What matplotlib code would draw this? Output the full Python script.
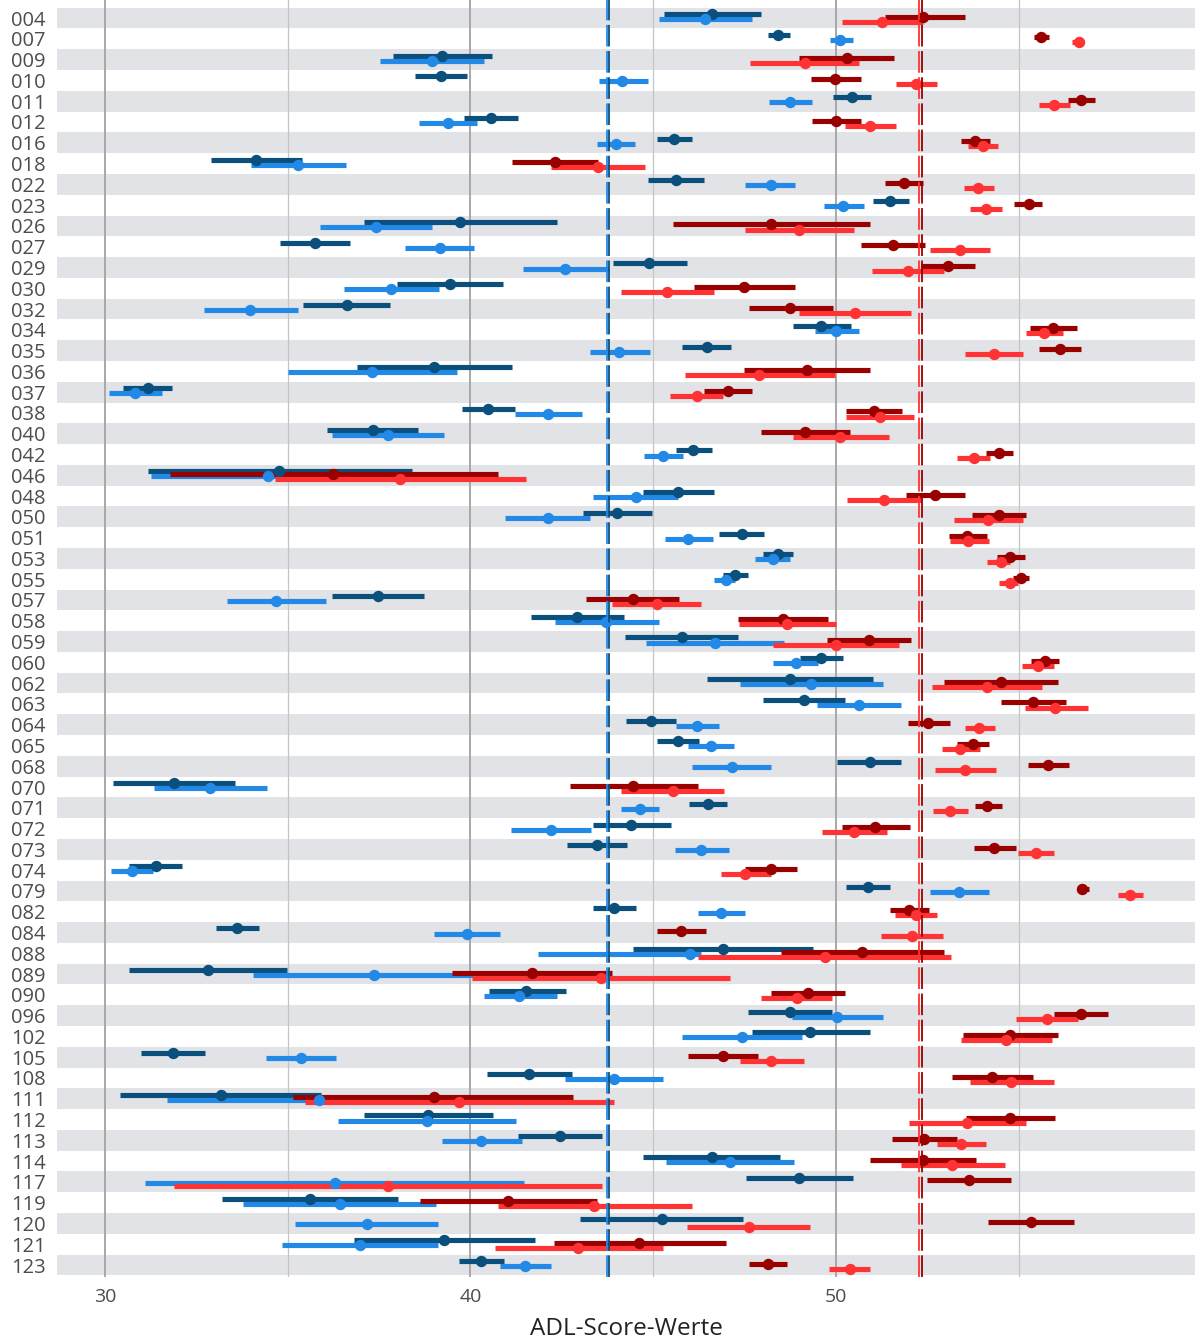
import numpy as np
import matplotlib.pyplot as plt

plt.rcParams['font.family'] = ['Open Sans', 'DejaVu Sans']

# subject ids, top to bottom
ids = ['004', '007', '009', '010', '011', '012', '016', '018', '022', '023',
       '026', '027', '029', '030', '032', '034', '035', '036', '037', '038',
       '040', '042', '046', '048', '050', '051', '053', '055', '057', '058',
       '059', '060', '062', '063', '064', '065', '068', '070', '071', '072',
       '073', '074', '079', '082', '084', '088', '089', '090', '096', '102',
       '105', '108', '111', '112', '113', '114', '117', '119', '120', '121',
       '123']

# dark blue series: estimate, lower, upper
db_pt = [46.61, 48.42, 39.22, 39.20, 50.44, 40.55, 45.57, 34.14, 45.61, 51.48,
         39.72, 35.74, 44.88, 39.43, 36.62, 49.60, 46.46, 39.01, 31.17, 40.49,
         37.33, 46.09, 34.77, 45.69, 44.01, 47.42, 48.42, 47.23, 37.47, 42.92,
         45.78, 49.60, 48.75, 49.13, 44.94, 45.67, 50.92, 31.89, 46.50, 44.40,
         43.47, 31.39, 50.87, 43.92, 33.62, 46.92, 32.81, 41.53, 48.73, 49.29,
         31.85, 41.61, 33.18, 38.85, 42.45, 46.61, 49.00, 35.60, 45.23, 39.28,
         40.28]
db_lo = [45.30, 48.13, 37.89, 38.49, 49.92, 39.82, 45.09, 32.91, 44.86, 51.00,
         37.08, 34.79, 43.90, 37.99, 35.43, 48.81, 45.80, 36.91, 30.50, 39.78,
         36.08, 45.63, 31.17, 44.73, 43.09, 46.80, 48.00, 46.92, 36.22, 41.65,
         44.24, 49.02, 46.48, 48.00, 44.26, 45.11, 50.04, 30.21, 45.98, 43.34,
         42.65, 30.67, 50.27, 43.34, 33.04, 44.46, 30.65, 40.51, 47.59, 47.69,
         30.98, 40.45, 30.42, 37.10, 41.30, 44.73, 47.54, 33.20, 43.01, 36.81,
         39.68]
db_hi = [47.96, 48.75, 40.59, 39.91, 50.96, 41.30, 46.05, 35.39, 46.40, 52.00,
         42.36, 36.70, 45.92, 40.88, 37.80, 50.42, 47.13, 41.13, 31.83, 41.22,
         38.57, 46.61, 38.39, 46.67, 44.96, 48.04, 48.83, 47.59, 38.72, 44.21,
         47.32, 50.19, 51.02, 50.25, 45.63, 46.25, 51.79, 33.56, 47.02, 45.48,
         44.28, 32.12, 51.48, 44.53, 34.22, 49.38, 34.99, 42.61, 49.90, 50.92,
         32.75, 42.78, 35.91, 40.63, 43.61, 48.48, 50.46, 38.03, 47.46, 41.76,
         40.91]

# light blue series
lb_pt = [46.42, 50.10, 38.95, 44.15, 48.73, 39.39, 43.99, 35.29, 48.21, 50.19,
         37.41, 39.16, 42.59, 37.83, 33.98, 50.00, 44.07, 37.30, 30.83, 42.11,
         37.74, 45.28, 34.45, 44.53, 42.11, 45.96, 48.27, 46.98, 34.68, 43.71,
         46.69, 48.90, 49.31, 50.62, 46.19, 46.57, 47.15, 32.87, 44.63, 42.20,
         46.32, 30.73, 53.37, 46.86, 39.91, 46.00, 37.37, 41.34, 50.04, 47.44,
         35.37, 43.92, 35.85, 38.80, 40.30, 47.11, 36.29, 36.43, 37.16, 36.97,
         41.49]
lb_lo = [45.17, 49.83, 37.53, 43.51, 48.17, 38.60, 43.47, 34.00, 47.52, 49.67,
         35.89, 38.20, 41.43, 36.53, 32.71, 49.42, 43.26, 35.02, 30.10, 41.22,
         36.22, 44.76, 31.25, 43.36, 40.95, 45.32, 47.79, 46.65, 33.35, 42.30,
         44.80, 48.27, 47.36, 49.48, 45.63, 45.96, 46.07, 31.33, 44.13, 41.11,
         45.59, 30.17, 52.56, 46.23, 39.01, 41.84, 34.04, 40.36, 48.79, 45.80,
         34.41, 42.59, 31.71, 36.39, 39.22, 45.36, 31.10, 33.77, 35.20, 34.85,
         40.80]
lb_hi = [47.71, 50.46, 40.38, 44.86, 49.33, 40.18, 44.51, 36.60, 48.88, 50.77,
         38.95, 40.09, 43.80, 39.14, 35.27, 50.62, 44.90, 39.62, 31.56, 43.05,
         39.28, 45.82, 34.70, 45.69, 43.28, 46.63, 48.75, 47.23, 36.04, 45.15,
         48.58, 49.52, 51.29, 51.77, 46.80, 47.21, 48.23, 34.43, 45.17, 43.30,
         47.07, 31.31, 54.18, 47.52, 40.82, 46.30, 40.10, 42.36, 51.29, 49.08,
         36.31, 45.28, 36.20, 41.24, 41.40, 48.86, 41.47, 39.05, 39.12, 39.12,
         42.20]

# dark red series
dr_pt = [52.39, 55.60, 50.29, 49.98, 56.70, 50.00, 53.81, 42.30, 51.85, 55.27,
         48.23, 51.56, 53.06, 47.48, 48.75, 55.93, 56.12, 49.21, 47.04, 51.04,
         49.15, 54.45, 36.24, 52.71, 54.45, 53.58, 54.77, 55.06, 44.44, 48.54,
         50.89, 55.72, 54.50, 55.39, 52.52, 53.75, 55.81, 44.44, 54.14, 51.08,
         54.33, 48.21, 56.74, 52.00, 45.75, 50.71, 41.68, 49.23, 56.70, 54.77,
         46.90, 54.27, 38.99, 54.77, 52.41, 52.37, 53.64, 41.03, 55.33, 44.61,
         48.13]
dr_lo = [51.33, 55.41, 49.00, 49.31, 56.35, 49.35, 53.41, 41.13, 51.35, 54.87,
         45.53, 50.69, 52.33, 46.11, 47.61, 55.31, 55.56, 47.48, 46.40, 50.27,
         47.96, 54.10, 31.77, 51.91, 53.73, 53.10, 54.41, 54.83, 43.17, 47.32,
         49.75, 55.33, 52.96, 54.52, 51.98, 53.31, 55.24, 42.72, 53.79, 50.17,
         53.77, 47.50, 56.58, 51.48, 45.09, 48.50, 39.49, 48.23, 55.95, 53.48,
         45.96, 53.16, 35.14, 53.56, 51.54, 50.92, 52.50, 38.62, 54.16, 42.28,
         47.63]
dr_hi = [53.54, 55.83, 51.58, 50.67, 57.08, 50.69, 54.20, 43.49, 52.39, 55.64,
         50.94, 52.43, 53.79, 48.88, 49.92, 56.60, 56.70, 50.94, 47.69, 51.81,
         50.37, 54.83, 40.74, 53.52, 55.20, 54.12, 55.16, 55.29, 45.71, 49.79,
         52.04, 56.10, 56.06, 56.29, 53.12, 54.18, 56.37, 46.23, 54.54, 52.02,
         54.91, 48.94, 56.91, 52.54, 46.44, 52.96, 43.86, 50.25, 57.45, 56.08,
         47.86, 55.39, 42.80, 55.99, 53.31, 53.83, 54.79, 43.47, 56.51, 46.98,
         48.65]

# light red series
lr_pt = [51.25, 56.64, 49.15, 52.19, 55.97, 50.94, 54.02, 43.49, 53.89, 54.10,
         48.98, 53.39, 51.96, 45.38, 50.52, 55.70, 54.31, 47.90, 46.19, 51.21,
         50.12, 53.77, 38.07, 51.31, 54.16, 53.62, 54.52, 54.75, 45.09, 48.67,
         50.00, 55.52, 54.12, 55.99, 53.91, 53.39, 53.54, 45.53, 53.12, 50.50,
         55.47, 47.52, 58.05, 52.19, 52.08, 49.69, 43.57, 48.92, 55.76, 54.66,
         48.23, 54.79, 39.70, 53.58, 53.43, 53.18, 37.74, 43.38, 47.61, 42.94,
         50.37]
lr_lo = [50.17, 56.45, 47.65, 51.64, 55.54, 50.25, 53.62, 42.20, 53.50, 53.66,
         47.50, 52.58, 50.98, 44.11, 48.98, 55.20, 53.54, 45.86, 45.46, 50.27,
         48.83, 53.31, 34.64, 50.29, 53.23, 53.12, 54.12, 54.47, 43.88, 47.34,
         48.27, 55.08, 52.62, 55.16, 53.54, 52.89, 52.71, 44.13, 52.66, 49.63,
         54.99, 46.86, 57.70, 51.60, 51.23, 46.23, 40.05, 47.96, 54.91, 53.41,
         47.36, 53.66, 35.47, 52.00, 52.77, 51.77, 31.89, 40.74, 45.92, 40.66,
         49.81]
lr_hi = [52.37, 56.78, 50.62, 52.77, 56.41, 51.64, 54.43, 44.78, 54.33, 54.54,
         50.48, 54.20, 52.96, 46.65, 52.06, 56.22, 55.12, 49.96, 46.92, 52.14,
         51.46, 54.22, 41.51, 52.33, 55.12, 54.18, 54.77, 54.99, 46.32, 50.00,
         51.73, 55.97, 55.64, 56.89, 54.35, 53.93, 54.37, 46.94, 53.60, 51.39,
         55.97, 48.23, 58.41, 52.77, 52.93, 53.14, 47.09, 49.90, 56.62, 55.91,
         49.13, 55.95, 43.94, 55.20, 54.10, 54.62, 43.59, 46.05, 49.29, 45.26,
         50.94]

# mean reference lines
ref_db, ref_lb, ref_dr, ref_lr = 43.79, 43.74, 52.34, 52.28

c_db, c_lb, c_dr, c_lr = '#0b4f7d', '#2389e6', '#990000', '#ff3333'

fig = plt.figure(figsize=(11.95, 13.43), dpi=100)
ax = fig.add_axes([0.0477, 0.0491, 0.9523, 0.9509])

n = len(ids)
y = np.arange(n)

# alternating row bands
for i in range(0, n, 2):
    ax.axhspan(i - 0.5, i + 0.5, color='#e1e3e6', lw=0, zorder=0)

for gx in [30, 40, 50]:
    ax.axvline(gx, color='#a8a8a8', lw=1.4, zorder=1)
for gx in [35, 45, 55]:
    ax.axvline(gx, color='#c4c4c4', lw=0.9, zorder=1)

series = [
    (db_pt, db_lo, db_hi, c_db, -0.195),
    (lb_pt, lb_lo, lb_hi, c_lb, 0.05),
    (dr_pt, dr_lo, dr_hi, c_dr, -0.07),
    (lr_pt, lr_lo, lr_hi, c_lr, 0.175),
]
for pt, lo, hi, col, off in series:
    ax.hlines(y + off, lo, hi, color=col, lw=3.7, zorder=3)
for pt, lo, hi, col, off in series:
    ax.plot(pt, y + off, 'o', color=col, ms=8.2, mew=0, zorder=4)

for xv, col in [(ref_lb, c_lb), (ref_db, c_db), (ref_lr, c_lr), (ref_dr, c_dr)]:
    ax.axvline(xv, color=col, lw=1.3, ls=(0, (12, 2.5)), zorder=5)

ax.set_xlim(28.69, 59.82)
ax.set_ylim(n - 0.42, -0.87)
ax.set_yticks(y)
ax.set_yticklabels(ids)
ax.set_xticks([30, 40, 50])
ax.tick_params(axis='y', length=0, pad=8, labelsize=14.5, labelcolor='#4d4d4d')
ax.tick_params(axis='x', length=0, pad=8, labelsize=14, labelcolor='#4d4d4d')
for s in ax.spines.values():
    s.set_visible(False)
ax.set_xlabel('ADL-Score-Werte', fontsize=17.5, color='#222222', labelpad=8)

fig.savefig('out.png', dpi=100)
